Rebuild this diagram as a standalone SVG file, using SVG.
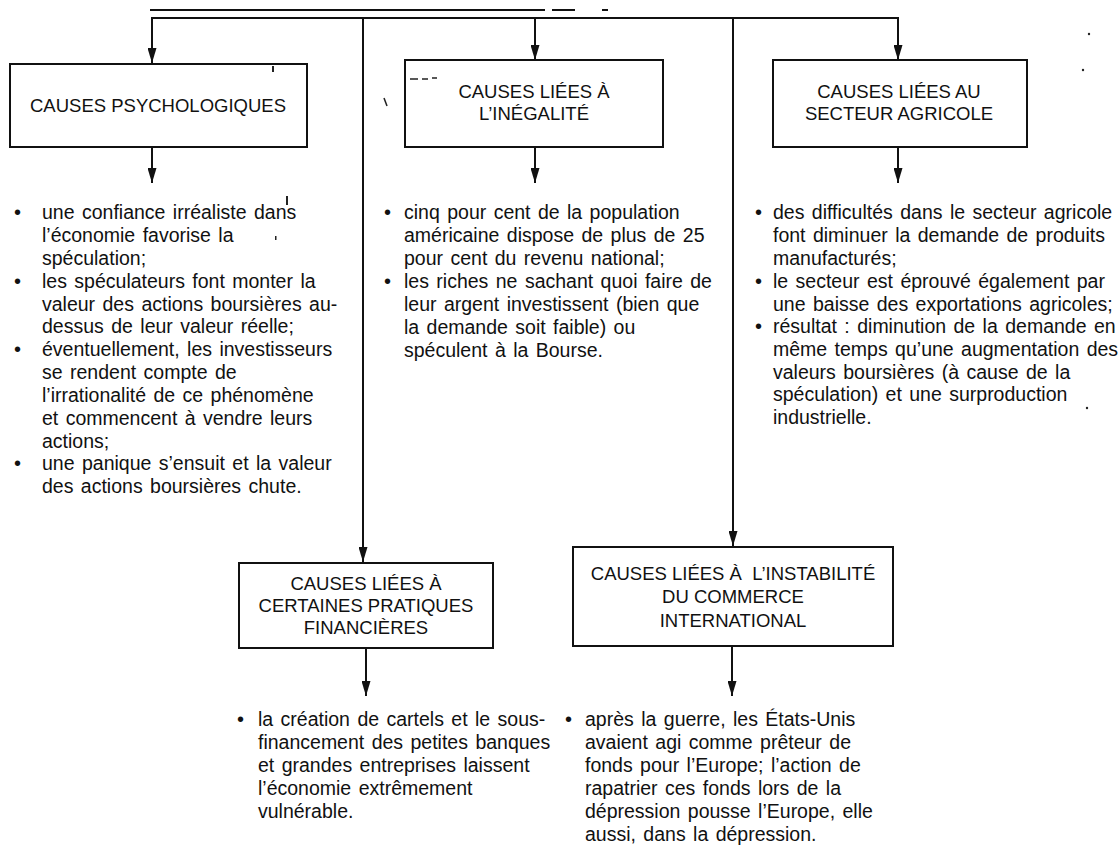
<svg xmlns="http://www.w3.org/2000/svg" width="1120" height="858" viewBox="0 0 1120 858">
<style>
.box{fill:#fff;stroke:#111;stroke-width:2}
.ln{fill:none;stroke:#111;stroke-width:2}
.t{font-family:"Liberation Sans","Open Sans",sans-serif;font-size:19.5px;word-spacing:2px;fill:#111}
.b{font-family:"Liberation Sans","Open Sans",sans-serif;font-size:20px;fill:#111}
.h{font-family:"Liberation Sans","Open Sans",sans-serif;font-size:18.5px;fill:#111;text-anchor:middle}
.sp{fill:#222}
</style>
<defs>
<marker id="ar" markerUnits="userSpaceOnUse" markerWidth="15" markerHeight="9" refX="15" refY="4.5" orient="auto">
<path d="M0,0 L15,4.5 L0,9 z" fill="#111"/>
</marker>
</defs>
<rect width="1120" height="858" fill="#fff"/>

<g id="connectors">
<path class="ln" d="M150,10 H545 M552,10 H575 M602,10 H608" stroke-width="1.5"/>
<path class="ln" d="M151,18 H899"/>
<path class="ln" d="M152,18 V63" marker-end="url(#ar)"/>
<path class="ln" d="M535,18 V60" marker-end="url(#ar)"/>
<path class="ln" d="M898,18 V60" marker-end="url(#ar)"/>
<path class="ln" d="M363,18 V562" marker-end="url(#ar)"/>
<path class="ln" d="M733,18 V546" marker-end="url(#ar)"/>
<path class="ln" d="M152,147 V183" marker-end="url(#ar)"/>
<path class="ln" d="M535,148 V183" marker-end="url(#ar)"/>
<path class="ln" d="M898,147 V183" marker-end="url(#ar)"/>
<path class="ln" d="M366,648 V696" marker-end="url(#ar)"/>
<path class="ln" d="M732,646 V696" marker-end="url(#ar)"/>
</g>

<g id="psychologiques">
<rect class="box" x="10" y="64" width="297" height="83"/>
<text class="h" x="158" y="112">CAUSES PSYCHOLOGIQUES</text>
</g>
<g id="inegalite">
<rect class="box" x="405" y="60" width="258" height="87"/>
<text class="h"><tspan x="534" y="98">CAUSES LIÉES À</tspan><tspan x="534" y="120">L’INÉGALITÉ</tspan></text>
</g>
<g id="agricole">
<rect class="box" x="773" y="60" width="254" height="87"/>
<text class="h"><tspan x="899" y="98">CAUSES LIÉES AU</tspan><tspan x="899" y="120">SECTEUR AGRICOLE</tspan></text>
</g>
<g id="financieres">
<rect class="box" x="239" y="563" width="254" height="85"/>
<text class="h"><tspan x="366" y="590">CAUSES LIÉES À</tspan><tspan x="366" y="612">CERTAINES PRATIQUES</tspan><tspan x="366" y="634">FINANCIÈRES</tspan></text>
</g>
<g id="instabilite">
<rect class="box" x="573" y="547" width="320" height="99"/>
<text class="h" xml:space="preserve"><tspan x="733" y="580">CAUSES LIÉES À  L’INSTABILITÉ</tspan><tspan x="733" y="603">DU COMMERCE</tspan><tspan x="733" y="627">INTERNATIONAL</tspan></text>
</g>

<g id="texte-psychologiques">
<text class="b"><tspan x="14" y="219">•</tspan><tspan x="14" y="288">•</tspan><tspan x="14" y="356">•</tspan><tspan x="14" y="470">•</tspan></text>
<text class="t"><tspan x="42" y="219">une confiance irréaliste dans</tspan><tspan x="42" y="242">l’économie favorise la</tspan><tspan x="42" y="265">spéculation;</tspan><tspan x="42" y="288">les spéculateurs font monter la</tspan><tspan x="42" y="311">valeur des actions boursières au-</tspan><tspan x="42" y="333">dessus de leur valeur réelle;</tspan><tspan x="42" y="356">éventuellement, les investisseurs</tspan><tspan x="42" y="379">se rendent compte de</tspan><tspan x="42" y="402">l’irrationalité de ce phénomène</tspan><tspan x="42" y="425">et commencent à vendre leurs</tspan><tspan x="42" y="448">actions;</tspan><tspan x="42" y="470">une panique s’ensuit et la valeur</tspan><tspan x="42" y="493">des actions boursières chute.</tspan></text>
</g>

<g id="texte-inegalite">
<text class="b"><tspan x="384" y="219">•</tspan><tspan x="384" y="288">•</tspan></text>
<text class="t"><tspan x="404" y="219">cinq pour cent de la population</tspan><tspan x="404" y="242">américaine dispose de plus de 25</tspan><tspan x="404" y="265">pour cent du revenu national;</tspan><tspan x="404" y="288">les riches ne sachant quoi faire de</tspan><tspan x="404" y="311">leur argent investissent (bien que</tspan><tspan x="404" y="334">la demande soit faible) ou</tspan><tspan x="404" y="357">spéculent à la Bourse.</tspan></text>
</g>

<g id="texte-agricole">
<text class="b"><tspan x="755" y="219">•</tspan><tspan x="755" y="288">•</tspan><tspan x="755" y="333">•</tspan></text>
<text class="t"><tspan x="773" y="219">des difficultés dans le secteur agricole</tspan><tspan x="773" y="242">font diminuer la demande de produits</tspan><tspan x="773" y="265">manufacturés;</tspan><tspan x="773" y="288">le secteur est éprouvé également par</tspan><tspan x="773" y="311">une baisse des exportations agricoles;</tspan><tspan x="773" y="333">résultat : diminution de la demande en</tspan><tspan x="773" y="356">même temps qu’une augmentation des</tspan><tspan x="773" y="379">valeurs boursières (à cause de la</tspan><tspan x="773" y="401">spéculation) et une surproduction</tspan><tspan x="773" y="424">industrielle.</tspan></text>
</g>

<g id="texte-financieres">
<text class="b"><tspan x="237" y="726">•</tspan></text>
<text class="t"><tspan x="258" y="726">la création de cartels et le sous-</tspan><tspan x="258" y="749">financement des petites banques</tspan><tspan x="258" y="772">et grandes entreprises laissent</tspan><tspan x="258" y="795">l’économie extrêmement</tspan><tspan x="258" y="818">vulnérable.</tspan></text>
</g>

<g id="texte-instabilite">
<text class="b"><tspan x="565" y="726">•</tspan></text>
<text class="t"><tspan x="585" y="726">après la guerre, les États-Unis</tspan><tspan x="585" y="749">avaient agi comme prêteur de</tspan><tspan x="585" y="772">fonds pour l’Europe; l’action de</tspan><tspan x="585" y="795">rapatrier ces fonds lors de la</tspan><tspan x="585" y="818">dépression pousse l’Europe, elle</tspan><tspan x="585" y="841">aussi, dans la dépression.</tspan></text>
</g>

<g id="specks" class="sp">
<path d="M410,79 H418 M422,79 H428 M432,78 H437" stroke="#222" stroke-width="1.5"/>
<path d="M384,98 L387,106" stroke="#222" stroke-width="1.5"/>
<rect x="272" y="66" width="2" height="6"/>
<rect x="286" y="196" width="2" height="9"/>
<rect x="275" y="236" width="1.5" height="4"/>
<circle cx="1089" cy="34" r="1.2"/>
<circle cx="1083" cy="70" r="1.2"/>
<circle cx="1087" cy="408" r="1.2"/>
</g>
</svg>
